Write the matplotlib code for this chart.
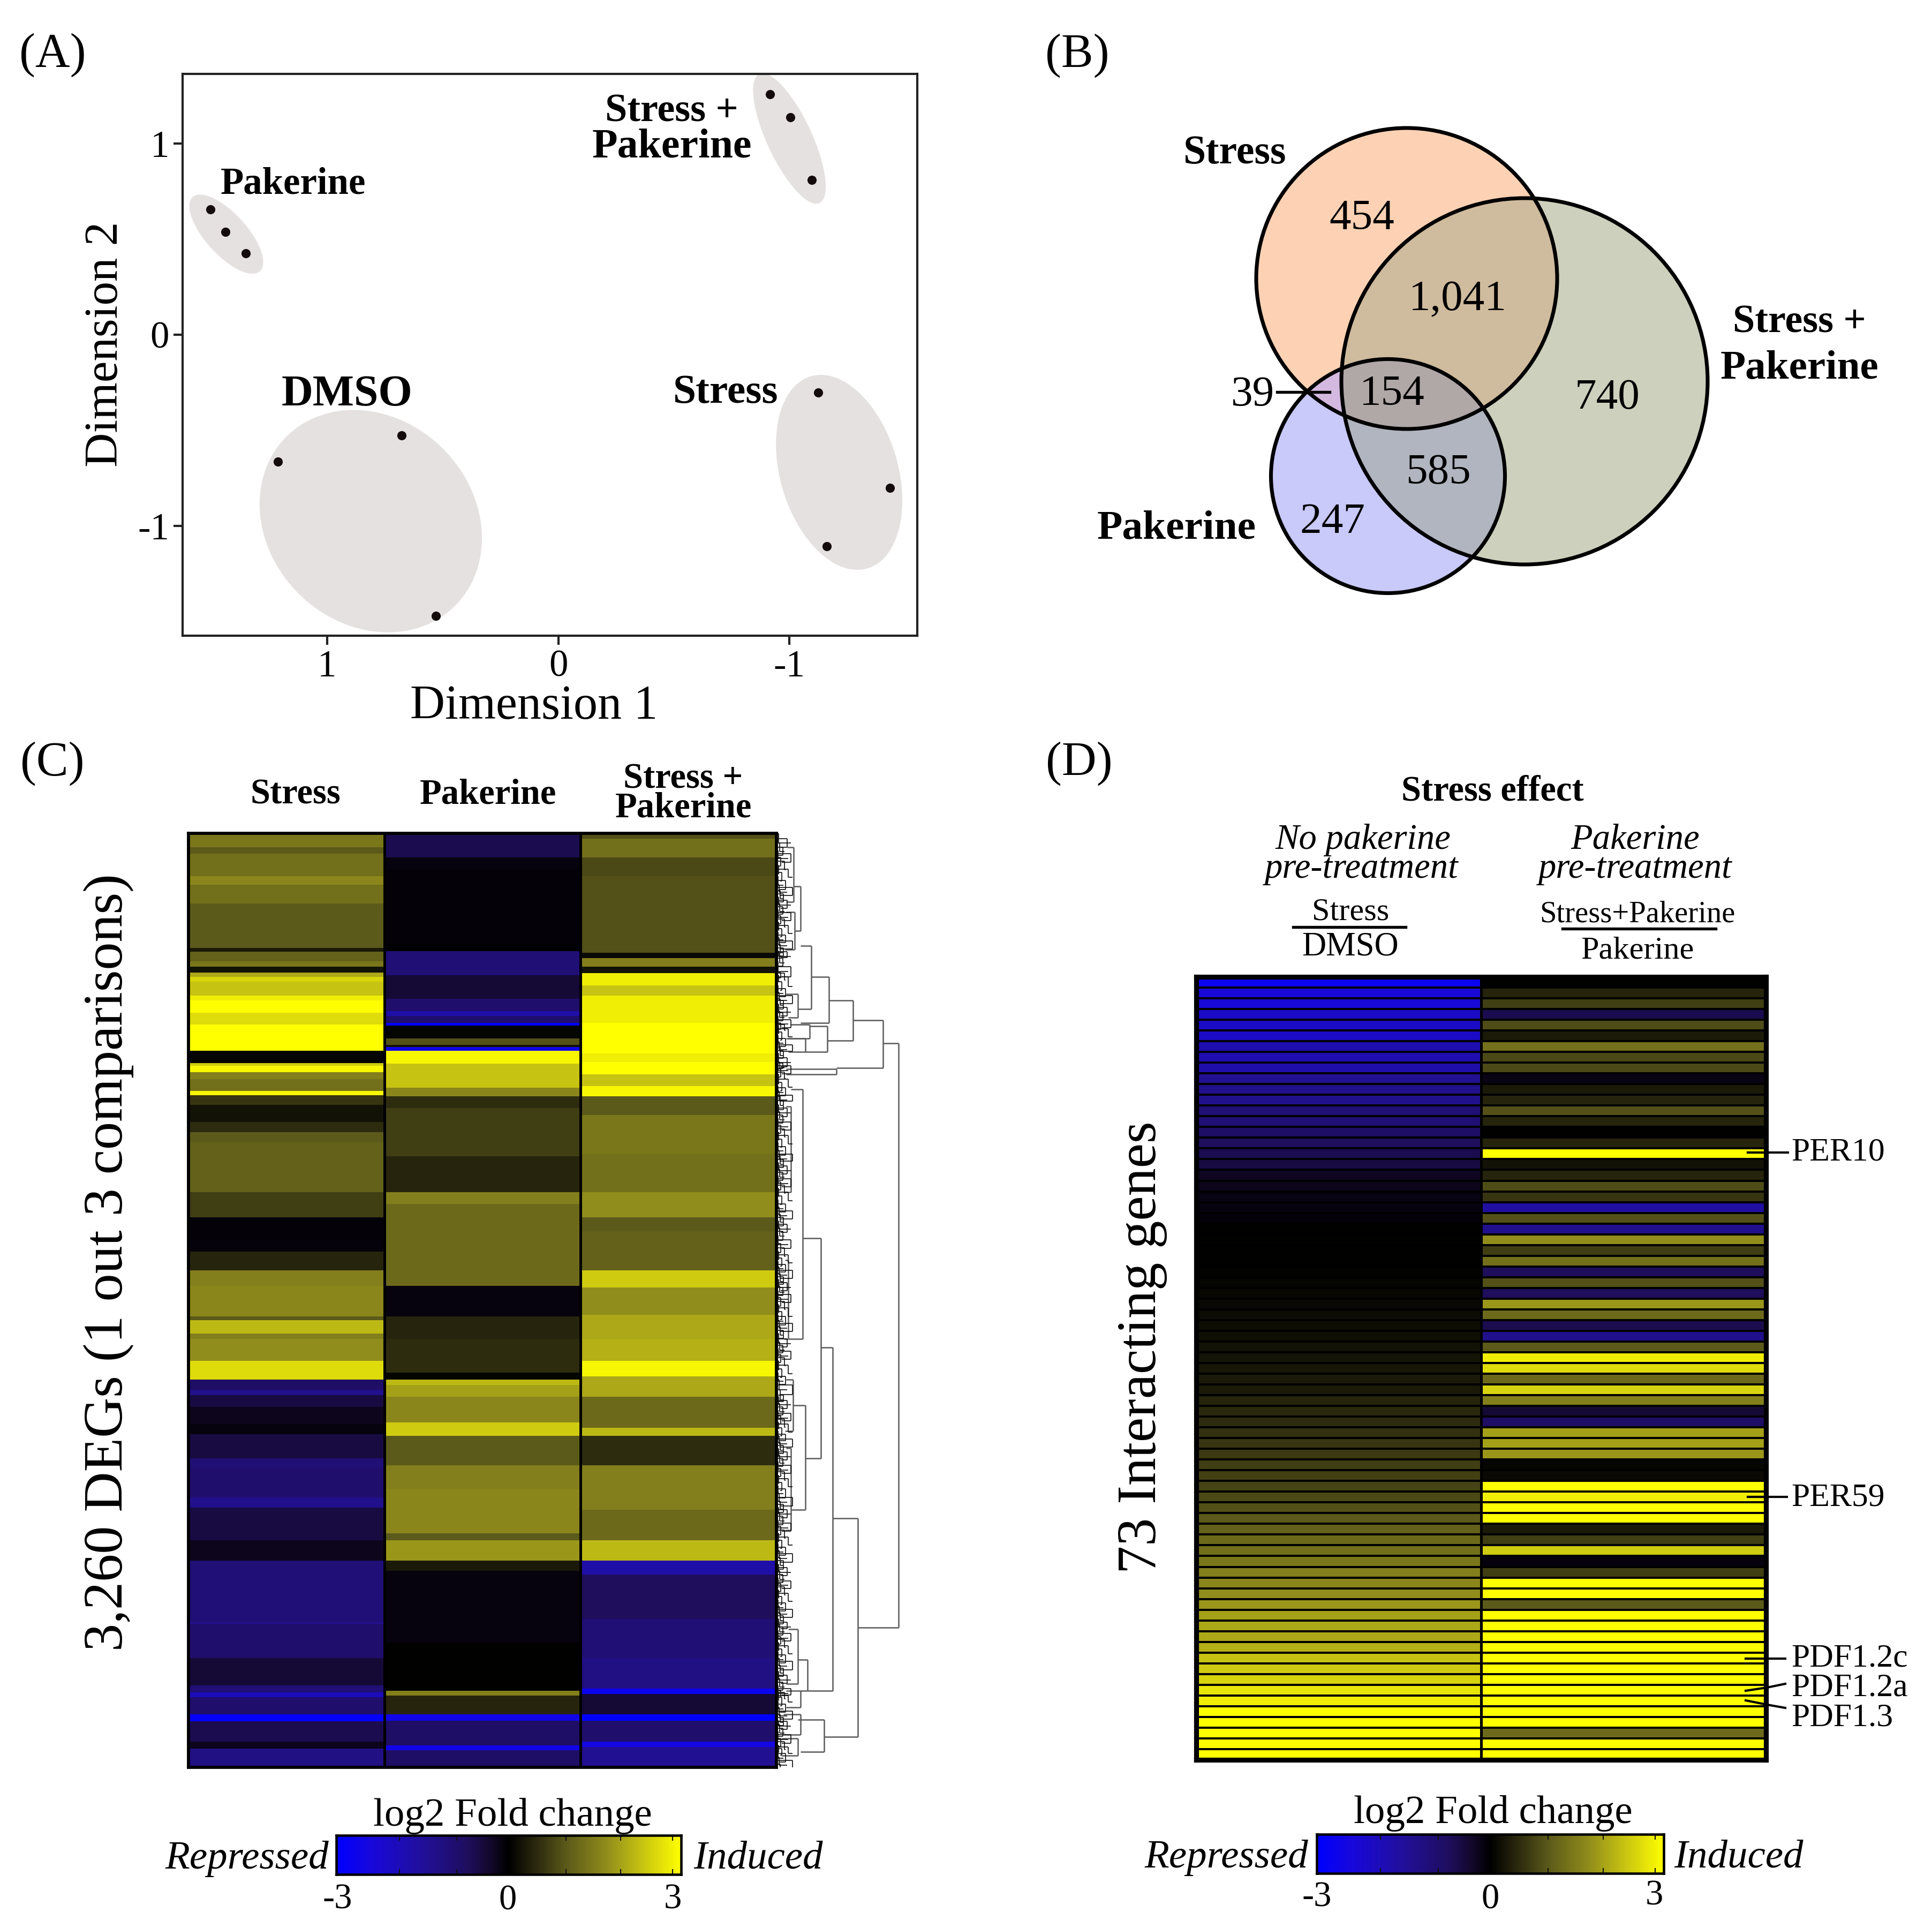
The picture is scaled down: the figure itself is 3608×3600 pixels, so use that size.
import numpy as np
import matplotlib
matplotlib.use("Agg")
import matplotlib.pyplot as plt
from matplotlib.collections import EllipseCollection, LineCollection
from matplotlib.colors import LinearSegmentedColormap
from matplotlib.patches import Circle, Polygon

plt.rcParams['font.family'] = ['Liberation Serif', 'DejaVu Serif']
W, H = 3608, 3600
DPI = 300

# ---------- Panel A: MDS ----------
groups = ["Pakerine", "Stress+Pakerine", "DMSO", "Stress"]
dim1 = [[1.505, 1.439, 1.351], [-0.915, -1.003, -1.096], [1.213, 0.678, 0.529], [-1.125, -1.436, -1.162]]
dim2 = [[0.655, 0.5375, 0.425], [1.255, 1.135, 0.8075], [-0.665, -0.5275, -1.47], [-0.3025, -0.8, -1.1075]]
hull_x = [1.436, -1.0, 0.811, -1.215]
hull_y = [0.525, 1.025, -0.975, -0.72]
hull_w = [187, 266, 446, 374]
hull_h = [77, 84, 382, 220]
hull_a = [-47.8, -65, -45, -73.6]

# ---------- Panel B: Venn ----------
venn_values = ["454", "1,041", "154", "740", "585", "247", "39"]
venn_x = [2543, 2722, 2600, 3002, 2686, 2488, 2339]
venn_y = [403, 555, 731, 738, 878, 970, 733]

# ---------- Panel C: heat map (band ends along the gene order, band values) ----------
stress_ends = [40,60,125,150,205,335,347,375,390,407,420,435,475,490,525,560,637,673,680,700,720,755,767,795,845,875,905,1050,1125,1190,1225,1280,1325,1415,1425,1465,1480,1545,1600,1630,1645,1680,1730,1760,1830,1860,1945,1975,2070,2130,2140,2310,2315,2415,2495,2515,2530,2580,2600,2660,2680,2735]
stress_vals = [1.4,1.0,1.3,1.6,1.3,1.0,.3,1.1,1.4,.2,2.0,2.5,2.3,2.8,3,2.6,3,.05,2.4,2.9,1.5,1.3,2.9,.6,.2,.5,1.0,1.1,.7,-.05,-.08,.4,1.5,1.6,1.0,2.2,1.5,1.7,2.6,-.8,-1.3,-.5,-.2,-.1,-.5,-1.0,-.9,-1.3,-.5,-.2,-1,-1.05,-1.4,-.9,-.4,-1.0,-1.9,-.9,-2.9,-.6,-.2,-1.2]
pak_ends = [70,105,325,345,415,485,520,535,555,563,600,620,625,637,675,745,770,805,945,1050,1085,1325,1415,1480,1580,1600,1615,1650,1725,1765,1850,1920,2050,2070,2130,2160,2370,2510,2525,2580,2598,2670,2685,2735]
pak_vals = [-.6,-.1,-.05,0,-1.0,-.4,-.9,-1.7,-.9,-3,.05,.9,.2,-2.6,2.9,2.3,1.6,.5,.7,.4,1.5,1.2,-.1,.4,.5,.05,2.2,1.9,1.6,2.4,1.0,1.5,1.6,1.0,1.8,.3,-.1,0.0,1.5,.4,-2.6,-.8,-2.6,-.8]
both_ends = [15,70,125,350,365,390,410,445,475,555,645,670,705,740,770,825,940,1050,1125,1165,1280,1330,1410,1480,1545,1590,1650,1740,1765,1850,1980,2070,2130,2170,2300,2415,2505,2520,2580,2598,2660,2675,2735]
both_vals = [.9,1.3,.8,.9,.1,1.5,.2,2.8,2.3,2.8,3,2.8,3,2.3,2.9,1.0,1.4,1.3,1.7,1.0,1.1,2.4,1.7,2.0,2.1,2.9,2.0,1.2,2.2,.5,1.5,1.2,2.2,-1.7,-.7,-1.0,-1.2,-2.7,-.4,-3,-.9,-2.5,-1.4]
c_titles = ["Stress", "Pakerine", "Stress +\nPakerine"]

# dendrogram merges: height, top row, bottom row, height of top child, height of bottom child
merges = [
    (255,615,2325,223,170),(223,547,687,160,125),(160,490,607,110,107),(110,420,555,73,50),
    (73,330,515,50,45),(50,155,285,36,38),(36,40,200,22,20),(38,230,340,20,18),(45,470,540,20,25),
    (125,690,705,20,20),(107,565,640,70,60),(70,560,600,30,25),(60,600,640,20,25),
    (170,2005,2645,118,100),(118,1505,2510,93,65),(93,1185,1830,55,60),(55,750,1480,30,25),
    (30,800,1050,20,18),(25,1250,1480,18,16),(60,1675,1980,35,30),(35,1600,1750,20,18),(30,1800,2040,20,18),
    (65,2420,2510,45,50),(45,2330,2490,25,20),(50,2510,2560,20,20),
    (100,2595,2690,45,50),(45,2650,2700,10,10),(50,2580,2640,15,15)]
leaf_heights = [4,22,7,13,3,30,9,17,5,25,11,3,19,6,34,8,15]

# ---------- Panel D: 73 interacting genes ----------
d_stress = [-2.7,-2.3,-2.3,-2.1,-2.1,-2.1,-1.8,-1.8,-1.7,-1.4,-1.3,-1.3,-1.0,-1.0,-.8,-.7,-.6,-.5,-.25,-.2,-.15,-.1,-.05,0,0,0,0,.03,.06,.08,.1,.14,.16,.18,.2,.22,.25,.3,.3,.4,.45,.5,.55,.6,.65,.7,.72,.75,.8,.9,1.0,1.1,1.2,1.3,1.4,1.5,1.6,1.7,1.8,1.9,2.0,2.0,2.1,2.3,2.4,2.5,2.7,2.8,3,3,3,3,3]
d_both = [0,.4,.7,-.6,.85,.3,1.3,.8,.8,-.15,.3,.4,.9,.4,0,.4,3,.2,.4,.85,.6,-1.6,.9,-1.3,1.7,.7,1.3,-.7,.9,-.7,1.8,1.2,-.6,-1.3,1.0,2.8,2.6,1.2,2.5,1.5,-.4,-.8,1.9,1.9,1.8,.05,.1,3,2.8,3,3,.3,.7,2.4,-.1,.7,3,3,1,3,3,3,3,3,3,3,3,3,3,3,1.2,3,3]

cmap = LinearSegmentedColormap.from_list("by", [
    (0.0, "#0000ff"), (0.1, "#1808dc"), (0.25, "#22109a"), (0.38, "#1f0e5e"), (0.45, "#120828"), (0.5, "#000000"),
    (0.58, "#2c2a0e"), (0.667, "#5c5a1a"), (0.78, "#8f8b1c"), (0.89, "#c9c512"), (1.0, "#ffff00")])


def axpx(x0, y0, x1, y1, **kw):
    return fig.add_axes([x0 / W, 1 - y1 / H, (x1 - x0) / W, (y1 - y0) / H], **kw)


fig = plt.figure(figsize=((W + 0.01) / DPI, (H + 0.01) / DPI), dpi=DPI, facecolor="white")
ov = fig.add_axes([0, 0, 1, 1], zorder=5)
ov.set_xlim(0, W); ov.set_ylim(H, 0); ov.axis("off"); ov.patch.set_alpha(0)


def T(x, y, s, size, **kw):
    kw.setdefault("ha", "center"); kw.setdefault("va", "center")
    if kw.get("rotation") == 90:
        x += 5
    else:
        y += 5
    ov.text(x, y, s, fontsize=size, **kw)


for x, y, s in [(98, 98, "(A)"), (2012, 99, "(B)"), (98, 1421, "(C)"), (2015, 1421, "(D)")]:
    T(x, y, s, 21.5)

# ----- A -----
a = axpx(341, 138, 1713, 1187.5)
a.set_xlim(1.625, -1.553); a.set_ylim(-1.575, 1.3625)
a.add_collection(EllipseCollection(hull_w, hull_h, hull_a, units="dots", offsets=np.c_[hull_x, hull_y],
                                   offset_transform=a.transData, facecolors="#e6e1e1", edgecolors="none"))
for xs, ys in zip(dim1, dim2):
    a.scatter(xs, ys, s=17, color="#140c0c", zorder=3, linewidths=0)
a.set_xticks([1, 0, -1]); a.set_xticklabels(["1", "0", "-1"])
a.set_yticks([1, 0, -1]); a.set_yticklabels(["1", "0", "-1"])
a.tick_params(labelsize=17, length=4, width=1, color="#222222")
a.tick_params(axis="x", pad=2)
a.tick_params(axis="y", pad=2)
for sp in a.spines.values():
    sp.set_linewidth(1.0); sp.set_color("#222222")
T(997, 1315, "Dimension 1", 21.6)
T(192, 643, "Dimension 2", 21.4, rotation=90)
T(548, 339, "Pakerine", 17, weight="bold")
T(648, 732, "DMSO", 19.6, weight="bold")
T(1355, 728, "Stress", 18.6, weight="bold")
T(1254, 203, "Stress +", 17.8, weight="bold")
T(1255, 270, "Pakerine", 18.7, weight="bold")

# ----- B -----
S = (2627, 520, 281); SP = (2847, 712, 342); P = (2592, 889, 218.5)


def region(*circles):
    t = np.linspace(0, 2 * np.pi, 1441)
    pts = []
    for c in circles:
        q = np.c_[c[0] + c[2] * np.cos(t), c[1] + c[2] * np.sin(t)]
        keep = np.ones(len(q), bool)
        for o in circles:
            if o is not c:
                keep &= np.hypot(q[:, 0] - o[0], q[:, 1] - o[1]) <= o[2]
        pts.append(q[keep])
    pts = np.vstack(pts)
    m = pts.mean(0)
    return pts[np.argsort(np.arctan2(pts[:, 1] - m[1], pts[:, 0] - m[0]))]


for c, col in [(S, "#fdd2b4"), (SP, "#ccd0bc"), (P, "#c9c9fa")]:
    ov.add_patch(Circle(c[:2], c[2], fc=col, ec="none"))
for cs, col in [((S, SP), "#cfbb9d"), ((SP, P), "#b1b5bf"), ((S, P), "#d3b8e0"), ((S, SP, P), "#b0a7a7")]:
    ov.add_patch(Polygon(region(*cs), closed=True, fc=col, ec="none"))
for c in (S, SP, P):
    ov.add_patch(Circle(c[:2], c[2], fc="none", ec="black", lw=1.7))
for x, y, s in zip(venn_x, venn_y, venn_values):
    T(x, y, s, 19.5)
ov.plot([2385, 2483], [732, 732], color="black", lw=1.3)
T(2306, 281, "Stress", 18.2, weight="bold")
T(2197, 982, "Pakerine", 18.6, weight="bold")
T(3360, 597, "Stress +", 17.8, weight="bold")
T(3360, 683, "Pakerine", 18.5, weight="bold")

# ----- C -----
c = axpx(352, 1556, 1450, 3300)
for i, (ends, vals) in enumerate([(stress_ends, stress_vals), (pak_ends, pak_vals), (both_ends, both_vals)]):
    c.pcolormesh([i, i + 1], [0] + ends, np.array(vals)[:, None], cmap=cmap, vmin=-3, vmax=3, linewidth=0, rasterized=True)
c.set_ylim(2735, 0); c.set_xlim(0, 3)
c.vlines([1, 2], 0, 2735, color="black", lw=1.2)
c.set_xticks([]); c.set_yticks([])
for sp in c.spines.values():
    sp.set_linewidth(1.4)
for xpos, s in zip([552, 911, 1276], c_titles):
    T(xpos, 1479 if "\n" not in s else 1477, s, 16, weight="bold", linespacing=0.85)
T(198, 2357, "3,260 DEGs (1 out 3 comparisons)", 25, rotation=90)

den = axpx(1450, 1556, 1690, 3300)
den.set_xlim(0, 269); den.set_ylim(2735, 0); den.axis("off")
segs = []
for d, y1, y2, d1, d2 in merges:
    segs += [[(d, y1), (d, y2)], [(d, y1), (d1, y1)], [(d, y2), (d2, y2)]]
den.add_collection(LineCollection(segs, colors="#5a5a5a", linewidths=0.6))
edges = sorted(set(stress_ends + pak_ends + both_ends) | {0})
leaf = []
k = 0
for e0, e1 in zip(edges[:-1], edges[1:]):
    n = max(2, (e1 - e0) // 9 + 1)
    yy = np.linspace(e0, e1, n)
    for f0, f1 in zip(yy[:-1], yy[1:]):
        h = leaf_heights[k % len(leaf_heights)]
        h2 = leaf_heights[(k + 5) % len(leaf_heights)]
        leaf += [[(0, f0), (h, f0)], [(h, f0), (h, f1 + 14)], [(h, f1 + 14), (h2, f1 + 14)]]
        k += 1
den.add_collection(LineCollection(leaf, colors="#0c0c0c", linewidths=0.4))

# ----- D -----
d = axpx(2234, 1824, 3298, 3286)
d.pcolormesh([0, 1, 2], np.arange(74), np.array([d_stress, d_both]).T, cmap=cmap, vmin=-3, vmax=3,
             edgecolors="black", linewidth=0.85)
d.set_ylim(73, 0); d.set_xlim(0, 2)
d.vlines(1, 0, 73, color="black", lw=1.2)
d.set_xticks([]); d.set_yticks([])
for sp in d.spines.values():
    sp.set_linewidth(2.2)
T(2787, 1473, "Stress effect", 16, weight="bold")
T(2545, 1563, "No pakerine", 16, style="italic")
T(2543, 1617, "pre-treatment", 16, style="italic")
T(3054, 1563, "Pakerine", 16, style="italic")
T(3054, 1617, "pre-treatment", 16, style="italic")
T(2522, 1698, "Stress", 14.5)
T(2522, 1763, "DMSO", 15)
T(3058, 1702, "Stress+Pakerine", 13.6)
T(3058, 1770, "Pakerine", 14.5)
ov.plot([2415, 2625], [1731, 1731], color="black", lw=1.3)
ov.plot([2918, 3204], [1734, 1734], color="black", lw=1.3)
T(2128, 2516, "73 Interacting genes", 25, rotation=90)
for x, y, s in [(3345, 2147, "PER10"), (3345, 2792, "PER59"), (3345, 3092, "PDF1.2c"),
                (3345, 3147, "PDF1.2a"), (3345, 3203, "PDF1.3")]:
    T(x, y, s, 14.8, ha="left")
for xs, ys in [([3264, 3339], [2152, 2152]), ([3264, 3337], [2795, 2795]), ([3260, 3334], [3097, 3097]),
               ([3260, 3300, 3334], [3157, 3151, 3144]), ([3260, 3300, 3334], [3175, 3183, 3189])]:
    ov.plot(xs, ys, color="black", lw=1.0)


# ----- colour bars -----
def cbar(x0, y0, x1, y1, title_x, title_y, lab_x, lab_y, rep_x, ind_x, mid_y):
    b = axpx(x0, y0, x1, y1)
    b.imshow(np.linspace(-3, 3, 256)[None, :], cmap=cmap, vmin=-3, vmax=3, aspect="auto", extent=(-3, 3, 0, 1))
    b.vlines([-1.9, -0.9, 1, 1.95, 2.85], 0, 0.14, color="#111111", lw=0.5)
    b.vlines([-1.9, -0.9, 1, 1.95, 2.85], 0.86, 1, color="#111111", lw=0.5)
    b.set_xticks([]); b.set_yticks([])
    for sp in b.spines.values():
        sp.set_linewidth(1.1)
    T(title_x, title_y, "log2 Fold change", 18)
    for x, y, s in zip(lab_x, lab_y, ["-3", "0", "3"]):
        T(x, y, s, 16)
    T(rep_x, mid_y, "Repressed", 18, style="italic", ha="right")
    T(ind_x, mid_y, "Induced", 18, style="italic", ha="left")


cbar(628, 3427, 1272, 3500, 957, 3386, [630, 948, 1256], [3542, 3544, 3542], 614, 1295, 3466)
cbar(2459, 3425, 3107, 3498, 2788, 3381, [2459, 2783, 3089], [3538, 3542, 3535], 2443, 3126, 3464)

fig.savefig("out.png", dpi=DPI)
